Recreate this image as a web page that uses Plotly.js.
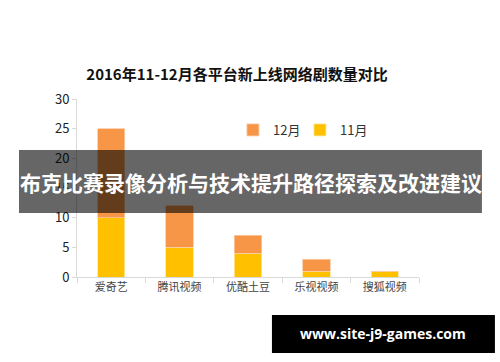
<!DOCTYPE html>
<html><head><meta charset="utf-8">
<script src="https://cdn.plot.ly/plotly-3.0.1.min.js"></script>
<style>body{margin:0;background:#fff}#c{width:500px;height:362px}</style>
</head><body><div id="c"></div>
<script>
const categories = ["爱奇艺","腾讯视频","优酷土豆","乐视视频","搜狐视频"];
const nov = [10,5,4,1,1];
const dec = [15,7,3,2,0];
const yTicks = [0,5,10,15,20,25,30];
const font = '"Noto Sans CJK SC", "Noto Sans", sans-serif';

const traces = [
  {type:'bar', name:'11月', x:categories, y:nov, marker:{color:'#FFC000', line:{color:'#FFE699', width:0.8}}},
  {type:'bar', name:'12月', x:categories, y:dec, marker:{color:'#F79646', line:{color:'#FBC9A3', width:0.8}}}
];
const layout = {
  width:500, height:362, barmode:'stack', bargap:0.6,
  paper_bgcolor:'#fff', plot_bgcolor:'#fff',
  margin:{l:77, r:81, t:99, b:85},
  font:{family:font, color:'#333'},
  title:{text:'<b>2016年11-12月各平台新上线网络剧数量对比</b>', font:{size:15, color:'#111', family:font}, x:0.474, xanchor:'center', y:0.793, yanchor:'middle'},
  xaxis:{showline:true, linecolor:'#d9d9d9', linewidth:1, ticks:'outside', tickson:'boundaries', ticklen:5, tickcolor:'#d9d9d9', tickfont:{size:11, color:'#444'}, showgrid:false},
  yaxis:{range:[0,30], tickvals:yTicks, showline:true, linecolor:'#d9d9d9', linewidth:1, ticks:'outside', ticklen:4, tickcolor:'#d9d9d9', tickfont:{size:13, color:'#222'}, showgrid:false, zeroline:false},
  showlegend:true,
  legend:{orientation:'h', traceorder:'reversed', x:0.456, xanchor:'left', y:0.826, yanchor:'middle', entrywidth:22, entrywidthmode:'pixels', font:{size:13, color:'#333'}, bgcolor:'rgba(0,0,0,0)'},
  shapes:[
    {type:'rect', xref:'paper', yref:'paper', x0:-0.1696, x1:1.184, y0:0.3596, y1:0.7135, fillcolor:'rgba(0,0,0,0.6)', line:{width:0}, layer:'above'},
    {type:'rect', xref:'paper', yref:'paper', x0:0.570, x1:1.222, y0:-0.427, y1:-0.2135, fillcolor:'#000', line:{width:0}, layer:'above'}
  ],
  annotations:[
    {xref:'paper', yref:'paper', x:0.508, y:0.534, text:'<b>布克比赛录像分析与技术提升路径探索及改进建议</b>', showarrow:false, font:{size:21, color:'#fff', family:font}, xanchor:'center', yanchor:'middle'},
    {xref:'paper', yref:'paper', x:0.896, y:-0.320, text:'<b>www.site-j9-games.com</b>', showarrow:false, font:{size:14, color:'#fff', family:'"Open Sans", "DejaVu Sans", sans-serif'}, xanchor:'center', yanchor:'middle'}
  ]
};
Plotly.newPlot('c', traces, layout, {displayModeBar:false, staticPlot:true});
</script></body></html>
